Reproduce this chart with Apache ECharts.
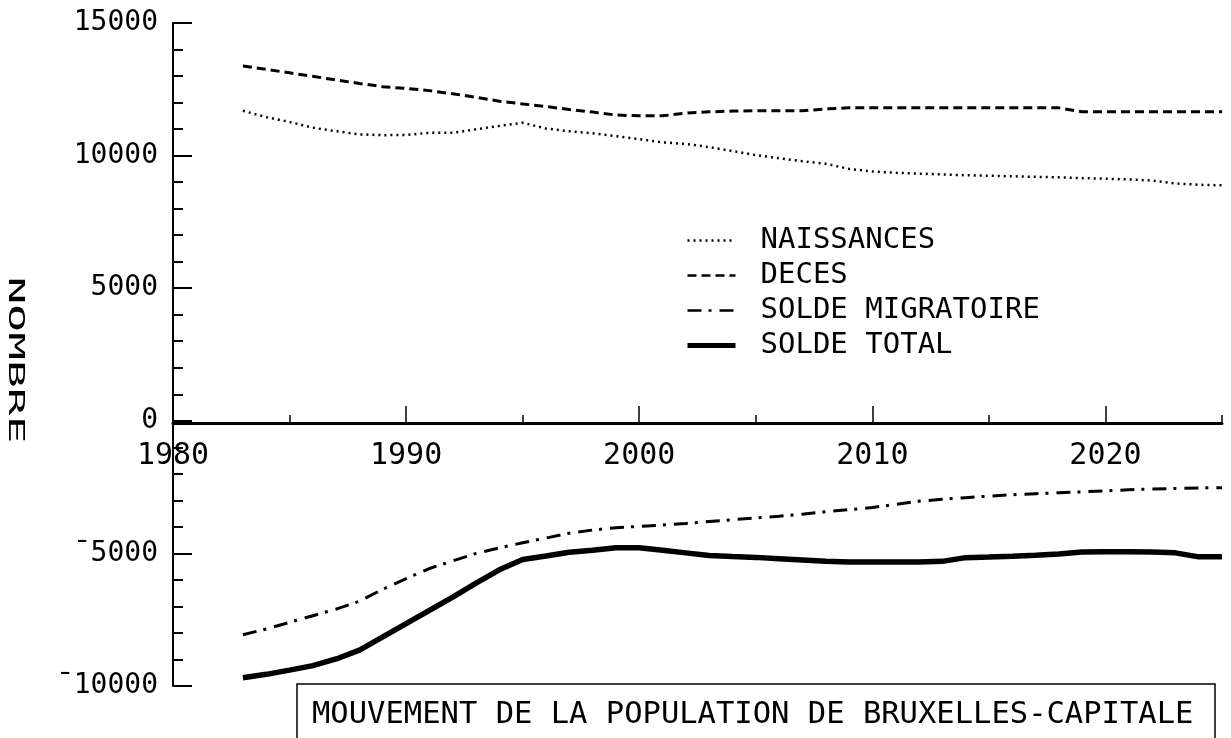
<!DOCTYPE html>
<html>
<head>
<meta charset="utf-8">
<script src="https://cdn.jsdelivr.net/npm/echarts@6/dist/echarts.min.js"></script>
<style>
  html, body { margin: 0; padding: 0; background: #fff; }
  #chart { width: 1231px; height: 738px; }
</style>
</head>
<body>
<div id="chart"></div>
<script>
// years 1983 .. 2025
var years = [1983, 1984, 1985, 1986, 1987, 1988, 1989, 1990, 1991, 1992,
  1993, 1994, 1995, 1996, 1997, 1998, 1999, 2000, 2001, 2002,
  2003, 2004, 2005, 2006, 2007, 2008, 2009, 2010, 2011, 2012,
  2013, 2014, 2015, 2016, 2017, 2018, 2019, 2020, 2021, 2022,
  2023, 2024, 2025]

var naissances = [11690, 11450, 11270, 11050, 10920, 10800, 10770, 10780, 10860, 10860,
  10990, 11120, 11240, 11020, 10920, 10840, 10730, 10620, 10500, 10440,
  10320, 10170, 10020, 9900, 9790, 9690, 9500, 9400, 9350, 9320,
  9290, 9260, 9240, 9220, 9200, 9180, 9150, 9130, 9100, 9060,
  8950, 8900, 8880]

var deces = [13380, 13250, 13120, 12990, 12850, 12720, 12600, 12530, 12450, 12330,
  12200, 12050, 11950, 11850, 11740, 11640, 11530, 11500, 11500, 11600,
  11650, 11680, 11690, 11690, 11690, 11760, 11800, 11800, 11800, 11800,
  11800, 11800, 11800, 11800, 11800, 11800, 11650, 11650, 11650, 11650,
  11650, 11650, 11650]

var soldeMigratoire = [-8070, -7850, -7600, -7350, -7100, -6800, -6350, -5950, -5570, -5280,
  -5000, -4790, -4600, -4420, -4240, -4120, -4030, -3980, -3930, -3870,
  -3800, -3730, -3660, -3600, -3520, -3430, -3350, -3270, -3150, -3030,
  -2960, -2900, -2840, -2790, -2750, -2710, -2680, -2640, -2600, -2570,
  -2550, -2530, -2520]

var soldeTotal = [-9690, -9560, -9400, -9230, -8980, -8650, -8150, -7650, -7150, -6650,
  -6120, -5620, -5230, -5100, -4960, -4880, -4790, -4790, -4880, -4980,
  -5080, -5120, -5150, -5200, -5250, -5300, -5320, -5320, -5320, -5320,
  -5300, -5160, -5140, -5110, -5070, -5020, -4950, -4940, -4940, -4950,
  -4980, -5130, -5130]

var decadeTicks = [1980, 1990, 2000, 2010, 2020]
var halfTicks = [1985, 1995, 2005, 2015, 2025]

var seriesNames = ['NAISSANCES', 'DECES', 'SOLDE MIGRATOIRE', 'SOLDE TOTAL']
var titleText = 'MOUVEMENT DE LA POPULATION DE BRUXELLES-CAPITALE'
var yName = 'NOMBRE'

var font = '"DejaVu Sans Mono", "Liberation Mono", monospace'

function pairs(vals) {
  return years.map(function (y, i) { return [y, vals[i]] })
}

var chart = echarts.init(document.getElementById('chart'))

// the time axis sits at y = 0, i.e. 263px above the grid bottom
var zeroOffset = -263

chart.setOption({
  backgroundColor: '#fff',
  animation: false,
  textStyle: { fontFamily: font, color: '#000' },
  grid: {
    left: 173,
    right: 9,
    top: 23,
    bottom: 52,
    outerBoundsMode: 'none'
  },
  title: {
    text: titleText,
    left: 297,
    top: 684,
    padding: [16, 22, 40, 15],
    borderColor: '#000',
    borderWidth: 1.5,
    textStyle: {
      fontFamily: font,
      fontSize: 30.5,
      fontWeight: 'normal',
      color: '#000'
    }
  },
  legend: {
    orient: 'vertical',
    left: 680,
    top: 221,
    itemWidth: 48,
    itemHeight: 14,
    itemGap: 6,
    selectedMode: false,
    itemStyle: { opacity: 0 },
    textStyle: {
      fontFamily: font,
      fontSize: 29,
      lineHeight: 29,
      color: '#000',
      padding: [0, 0, 0, 20]
    },
    data: [
      { name: seriesNames[0], lineStyle: { width: 2.5 } },
      { name: seriesNames[1], lineStyle: { width: 2.5 } },
      { name: seriesNames[2], lineStyle: { width: 2.5 } },
      { name: seriesNames[3], lineStyle: { width: 5 } }
    ]
  },
  xAxis: [{
    type: 'value',
    min: 1980,
    max: 2025,
    interval: 10,
    position: 'bottom',
    offset: zeroOffset,
    axisLine: { onZero: false, lineStyle: { color: '#000', width: 3 } },
    axisTick: {
      inside: true,
      length: 17,
      customValues: decadeTicks,
      lineStyle: { color: '#000', width: 1.5 }
    },
    axisLabel: {
      customValues: decadeTicks,
      margin: 18,
      fontFamily: font,
      fontSize: 30,
      color: '#000',
      formatter: function (v) { return String(v) }
    },
    splitLine: { show: false }
  }, {
    type: 'value',
    min: 1980,
    max: 2025,
    position: 'bottom',
    offset: zeroOffset,
    axisLine: { show: false, onZero: false },
    axisTick: {
      inside: true,
      length: 8,
      customValues: halfTicks,
      lineStyle: { color: '#000', width: 1.5 }
    },
    axisLabel: { show: false },
    splitLine: { show: false }
  }],
  yAxis: {
    type: 'value',
    min: -10000,
    max: 15000,
    interval: 5000,
    axisLine: { show: true, onZero: false, lineStyle: { color: '#000', width: 2 } },
    axisTick: {
      show: true,
      inside: true,
      length: 19,
      lineStyle: { color: '#000', width: 2 }
    },
    minorTick: {
      show: true,
      splitNumber: 5,
      length: 10,
      lineStyle: { color: '#000', width: 2 }
    },
    axisLabel: {
      margin: 15,
      fontFamily: font,
      fontSize: 28,
      color: '#000',
      formatter: function (v) {
        return v < 0 ? '\u00AF' + (-v) : String(v)
      }
    },
    splitLine: { show: false }
  },
  graphic: [{
    type: 'text',
    x: 15,
    y: 360,
    rotation: -Math.PI / 2,
    scaleX: 2.1,
    style: {
      text: yName,
      fontFamily: font,
      fontSize: 22,
      fill: '#000',
      align: 'center',
      verticalAlign: 'middle'
    }
  }],
  series: [{
    name: seriesNames[0],
    type: 'line',
    symbol: 'none',
    data: pairs(naissances),
    lineStyle: { color: '#000', width: 2.5, type: [2, 4] }
  }, {
    name: seriesNames[1],
    type: 'line',
    symbol: 'none',
    data: pairs(deces),
    lineStyle: { color: '#000', width: 3, type: [9, 5] }
  }, {
    name: seriesNames[2],
    type: 'line',
    symbol: 'none',
    data: pairs(soldeMigratoire),
    lineStyle: { color: '#000', width: 3, type: [14, 7, 3, 8] }
  }, {
    name: seriesNames[3],
    type: 'line',
    symbol: 'none',
    data: pairs(soldeTotal),
    lineStyle: { color: '#000', width: 5.5 }
  }]
})
</script>
</body>
</html>
